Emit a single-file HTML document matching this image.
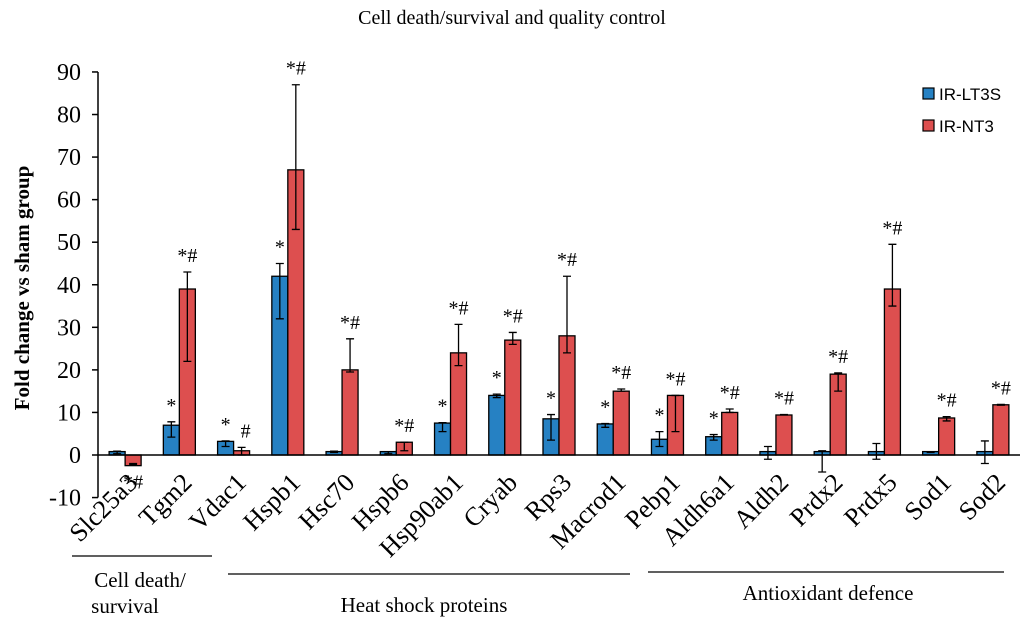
<!DOCTYPE html>
<html><head><meta charset="utf-8"><style>
body{margin:0;background:#fff;}
svg text{font-family:"Liberation Serif",serif;fill:#000;}
</style></head><body>
<svg width="1024" height="624" xmlns="http://www.w3.org/2000/svg">
<text x="512" y="24" font-size="20" text-anchor="middle">Cell death/survival and quality control</text>
<text transform="translate(29,288) rotate(-90)" font-size="21" font-weight="bold" text-anchor="middle">Fold change vs sham group</text>
<g id="plot"></g>
<g>
<rect x="923" y="88" width="11" height="11" fill="#2681c3" stroke="#000" stroke-width="1.2"/>
<text x="939" y="100" font-size="17" style="font-family:'Liberation Sans',sans-serif">IR-LT3S</text>
<rect x="923" y="120" width="11" height="11" fill="#dd4f4f" stroke="#000" stroke-width="1.2"/>
<text x="939" y="132" font-size="17" style="font-family:'Liberation Sans',sans-serif">IR-NT3</text>
</g>
<g>
<line x1="72" y1="556" x2="212" y2="556" stroke="#000" stroke-width="1.3"/>
<line x1="228" y1="574" x2="630" y2="574" stroke="#000" stroke-width="1.3"/>
<line x1="648" y1="572" x2="1004" y2="572" stroke="#000" stroke-width="1.3"/>
<text x="140" y="587" font-size="21" text-anchor="middle">Cell death/</text>
<text x="125" y="613" font-size="21" text-anchor="middle">survival</text>
<text x="424" y="612" font-size="21" text-anchor="middle">Heat shock proteins</text>
<text x="828" y="600" font-size="21" text-anchor="middle">Antioxidant defence</text>
</g>
</svg>
<script>
const categories=["Slc25a3","Tgm2","Vdac1","Hspb1","Hsc70","Hspb6","Hsp90ab1","Cryab","Rps3","Macrod1","Pebp1","Aldh6a1","Aldh2","Prdx2","Prdx5","Sod1","Sod2"];
const lt3s=[0.8,7,3.2,42,0.8,0.8,7.5,14,8.5,7.3,3.7,4.3,0.8,0.8,0.8,0.8,0.8];
const lt3sLo=[0.3,4.2,2,32,0.6,0.3,5.5,13.5,3.5,6.5,2,3.5,-1,-4,-1,0.6,-2];
const lt3sHi=[0.9,7.8,3.3,45,0.9,0.8,7.6,14.3,9.5,7.4,5.5,4.8,2,1,2.7,0.8,3.3];
const nt3=[-2.5,39,1,67,20,3,24,27,28,15,14,10,9.4,19,39,8.7,11.8];
const nt3Lo=[-2.2,22,0,53,19.5,1,21,26,24,15,5.5,10,9.4,15,35,8,11.7];
const nt3Hi=[-2,43,1.8,87,27.3,3,30.7,28.8,42,15.5,14,10.8,9.5,19.3,49.5,9,11.9];
const ltMark=["","*","*","*","","","*","*","*","*","*","*","","","","",""];
const ntMark=["*#","*#","#","*#","*#","*#","*#","*#","*#","*#","*#","*#","*#","*#","*#","*#","*#"];
const yTicks=[-10,0,10,20,30,40,50,60,70,80,90];
const NS="http://www.w3.org/2000/svg";
const g=document.getElementById('plot');
const x0=98,x1=1020,yZero=455,pxPer=4.256;
const y=v=>yZero-v*pxPer;
const step=(x1-x0)/categories.length;
const cx=i=>x0+step*(i+0.5);
function mk(t,a){const e=document.createElementNS(NS,t);for(const k in a)e.setAttribute(k,a[k]);g.appendChild(e);return e;}
let ax=mk('line',{x1:x0,y1:y(90),x2:x0,y2:y(-10),stroke:'#000','stroke-width':1.5});


yTicks.forEach(t=>{
 let l=mk('line',{x1:x0-6,x2:x0,y1:y(t),y2:y(t),stroke:'#000','stroke-width':1.5});
 
 
 let tx=mk('text',{x:x0-17,y:y(t)+8,'font-size':24,'text-anchor':'end'});tx.textContent=t;
 
 
});
function bar(i,v,lo,hi,off,color,mark,name){
 const bx=cx(i)+off, w=16;
 const top=Math.min(y(v),y(0)), h=Math.abs(y(v)-y(0));
 let r=mk('rect',{x:bx,y:top,width:w,height:Math.max(h,0.5),fill:color,stroke:'#000','stroke-width':1.3});
 
 
 const ex=bx+w/2;
 let e=mk('path',{d:`M${ex},${y(hi)}V${y(lo)}M${ex-4},${y(hi)}H${ex+4}M${ex-4},${y(lo)}H${ex+4}`,stroke:'#000','stroke-width':1.3,fill:'none'});
 
 
 if(mark){
  const below=v<0;
  let t=mk('text',{x:ex+(mark==='#'?4:0),y:below?y(lo)+24:Math.min(y(hi),y(v))-10,'font-size':20,'text-anchor':'middle',fill:'#333'});
  t.textContent=mark;
  
  
 }
}
categories.forEach((c,i)=>{
 bar(i,lt3s[i],lt3sLo[i],lt3sHi[i],-16,'#2681c3',ltMark[i],'bar-lt3s-'+c.toLowerCase());
 bar(i,nt3[i],nt3Lo[i],nt3Hi[i],0,'#dd4f4f',ntMark[i],'bar-nt3-'+c.toLowerCase());
 let t=mk('text',{transform:`translate(${cx(i)+14},${484}) rotate(-45)`,'font-size':26,'text-anchor':'end'});
 t.textContent=c;
 
 
});
let zl=mk('line',{x1:x0,x2:x1,y1:y(0),y2:y(0),stroke:'#000','stroke-width':1.5});


</script>
</body></html>
